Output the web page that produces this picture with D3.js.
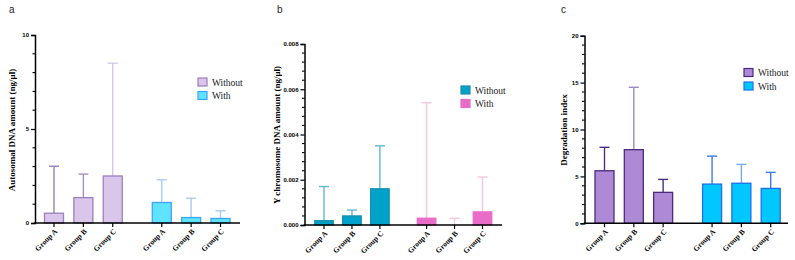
<!DOCTYPE html>
<html><head><meta charset="utf-8">
<script src="https://cdn.jsdelivr.net/npm/d3@7"></script>
<style>html,body{margin:0;padding:0;background:#fff;}svg{display:block;}</style>
</head><body>
<svg id="chart" width="795" height="260"></svg>
<script>
// ---------- data ----------
const groups = ["Group A", "Group B", "Group C"];
const seriesNames = ["Without", "With"];

// Panel a: Autosomal DNA amount (ng/μl)
const autoWithoutMean = [0.52, 1.35, 2.5];
const autoWithoutSD   = [2.5, 1.25, 6.0];
const autoWithMean    = [1.09, 0.29, 0.24];
const autoWithSD      = [1.21, 1.03, 0.41];
const autoTicks = [0, 5, 10];

// Panel b: Y chromosome DNA amount (ng/μl)
const yWithoutMean = [0.00019, 0.0004, 0.0016];
const yWithoutSD   = [0.00151, 0.00026, 0.0019];
const yWithMean    = [0.0003, 0.0, 0.00058];
const yWithSD      = [0.0051, 0.0003, 0.00154];
const yTicks = [0, 0.002, 0.004, 0.006, 0.008];

// Panel c: Degradation index
const diWithoutMean = [5.6, 7.85, 3.3];
const diWithoutSD   = [2.5, 6.65, 1.38];
const diWithMean    = [4.18, 4.27, 3.72];
const diWithSD      = [2.98, 2.01, 1.71];
const diTicks = [0, 5, 10, 15, 20];

// ---------- drawing ----------
const svg = d3.select("#chart");

function drawPanel(p) {
  const g = svg.append("g");
  const y = d3.scaleLinear().domain([0, p.yMax]).range([p.y0, p.yTop]);
  // slot positions: 3 bars, gap, 3 bars
  const slots = [0, 1, 2, 3.67, 4.67, 5.67];
  const x = d3.scaleLinear().domain([0, 5.67]).range([p.xFirst, p.xLast]);
  const bw = p.barW;

  const rows = [];
  groups.forEach((gname, i) => rows.push({s: 0, g: gname, m: p.means[0][i], sd: p.sds[0][i], slot: slots[i]}));
  groups.forEach((gname, i) => rows.push({s: 1, g: gname, m: p.means[1][i], sd: p.sds[1][i], slot: slots[i + 3]}));

  // error bars (drawn behind bars)
  rows.forEach((r, i) => {
    const cx = x(r.slot);
    const col = p.errColors[i];
    g.append("line").attr("x1", cx).attr("x2", cx)
      .attr("y1", y(r.m)).attr("y2", y(r.m + r.sd))
      .attr("stroke", col).attr("stroke-width", 1.4);
    g.append("line").attr("x1", cx - 5).attr("x2", cx + 5)
      .attr("y1", y(r.m + r.sd)).attr("y2", y(r.m + r.sd))
      .attr("stroke", col).attr("stroke-width", 1.4);
  });
  // bars
  rows.forEach(r => {
    if (r.m <= 0) return;
    const cx = x(r.slot);
    g.append("rect").attr("x", cx - bw / 2).attr("width", bw)
      .attr("y", y(r.m)).attr("height", y(0) - y(r.m))
      .attr("fill", p.fill[r.s]).attr("stroke", p.stroke[r.s]).attr("stroke-width", 1.3);
  });

  // y axis
  const yAxis = d3.axisLeft(y).tickValues(p.ticks).tickSize(4).tickPadding(2)
    .tickFormat(p.fmt);
  const ya = g.append("g").attr("transform", `translate(${p.xAxis},0)`).call(yAxis);
  ya.select(".domain").attr("stroke", "#000").attr("stroke-width", 1.5);
  ya.selectAll(".tick line").attr("stroke", "#000").attr("stroke-width", 1.2);
  ya.selectAll("text").attr("font-family", "Liberation Sans, Arial, sans-serif")
    .attr("font-weight", "bold").attr("font-size", 6).attr("fill", "#000");
  // minor ticks
  const minor = d3.range(0, p.yMax + p.minorStep / 2, p.minorStep)
    .filter(v => !p.ticks.some(t => Math.abs(t - v) < p.minorStep / 10));
  g.selectAll(null).data(minor).enter().append("line")
    .attr("x1", p.xAxis - 2.5).attr("x2", p.xAxis)
    .attr("y1", d => y(d)).attr("y2", d => y(d))
    .attr("stroke", "#000").attr("stroke-width", 1.1);

  // x axis
  g.append("line").attr("x1", p.xAxis - 0.75).attr("x2", p.xEnd)
    .attr("y1", p.y0).attr("y2", p.y0).attr("stroke", "#000").attr("stroke-width", 1.5);
  rows.forEach(r => {
    const cx = x(r.slot);
    g.append("line").attr("x1", cx).attr("x2", cx).attr("y1", p.y0).attr("y2", p.y0 + 4)
      .attr("stroke", "#000").attr("stroke-width", 1.2);
    g.append("text").attr("transform", `translate(${cx + 2},${p.y0 + 7}) rotate(-45)`)
      .attr("text-anchor", "end").attr("dy", "0.35em")
      .attr("font-family", "Liberation Serif, Times New Roman, serif")
      .attr("font-weight", "bold").attr("font-size", 7.5).attr("fill", "#000")
      .text(r.g);
  });

  // y label
  g.append("text").attr("transform", `translate(${p.labelX},${p.labelY}) rotate(-90)`)
    .attr("text-anchor", "middle")
    .attr("font-family", "Liberation Serif, Times New Roman, serif")
    .attr("font-weight", "bold").attr("font-size", 9).attr("fill", "#000")
    .text(p.label);

  // panel letter
  g.append("text").attr("x", p.letterX).attr("y", 13)
    .attr("font-family", "Liberation Sans, Arial, sans-serif")
    .attr("font-size", 10).attr("fill", "#222").text(p.letter);

  // legend
  seriesNames.forEach((s, i) => {
    const ly = p.legY + i * 13.5;
    g.append("rect").attr("x", p.legX).attr("y", ly).attr("width", 9).attr("height", 8)
      .attr("fill", p.fill[i]).attr("stroke", p.stroke[i]).attr("stroke-width", 1.2);
    g.append("text").attr("x", p.legX + 14).attr("y", ly + 7.5)
      .attr("font-family", "Liberation Serif, Times New Roman, serif")
      .attr("font-size", 9.5).attr("fill", "#222").text(s);
  });
}

drawPanel({
  letter: "a", letterX: 9,
  means: [autoWithoutMean, autoWithMean], sds: [autoWithoutSD, autoWithSD],
  yMax: 10, ticks: autoTicks, minorStep: 1, fmt: d3.format("d"),
  y0: 223, yTop: 35, xAxis: 35, xEnd: 240, xFirst: 54, xLast: 220.5, barW: 19,
  fill: ["#dac6ea", "#5fe3ff"], stroke: ["#9a7fba", "#3aa6f2"],
  errColors: ["#9a7fba", "#a88fc4", "#d6c8e6", "#a9cbf7", "#a9cbf7", "#a9cbf7"],
  label: "Autosomal DNA amount (ng/μl)", labelX: 15, labelY: 130,
  legX: 198, legY: 78
});

drawPanel({
  letter: "b", letterX: 277,
  means: [yWithoutMean, yWithMean], sds: [yWithoutSD, yWithSD],
  yMax: 0.008, ticks: yTicks, minorStep: 0.0004, fmt: d3.format(".3f"),
  y0: 225, yTop: 44, xAxis: 304.5, xEnd: 502, xFirst: 324, xLast: 482.5, barW: 18.5,
  fill: ["#00a2c9", "#e86dc9"], stroke: ["#1590ad", "#e86dc9"],
  errColors: ["#62b9cb", "#62b9cb", "#62b9cb", "#f2c8de", "#f2c8de", "#f2c8de"],
  label: "Y chromosome DNA amount (ng/μl)", labelX: 280, labelY: 135,
  legX: 461, legY: 86
});

drawPanel({
  letter: "c", letterX: 561,
  means: [diWithoutMean, diWithMean], sds: [diWithoutSD, diWithSD],
  yMax: 20, ticks: diTicks, minorStep: 1, fmt: d3.format("d"),
  y0: 223.3, yTop: 35.7, xAxis: 584.5, xEnd: 788, xFirst: 604.5, xLast: 770.7, barW: 19,
  fill: ["#ad89d6", "#00c8ff"], stroke: ["#4b2b7c", "#1e6fe8"],
  errColors: ["#4e2d82", "#a08ac2", "#4e2d82", "#3a7de8", "#7aaaf0", "#3a7de8"],
  label: "Degradation index", labelX: 567, labelY: 130,
  legX: 744, legY: 68.5
});
</script>
</body></html>
